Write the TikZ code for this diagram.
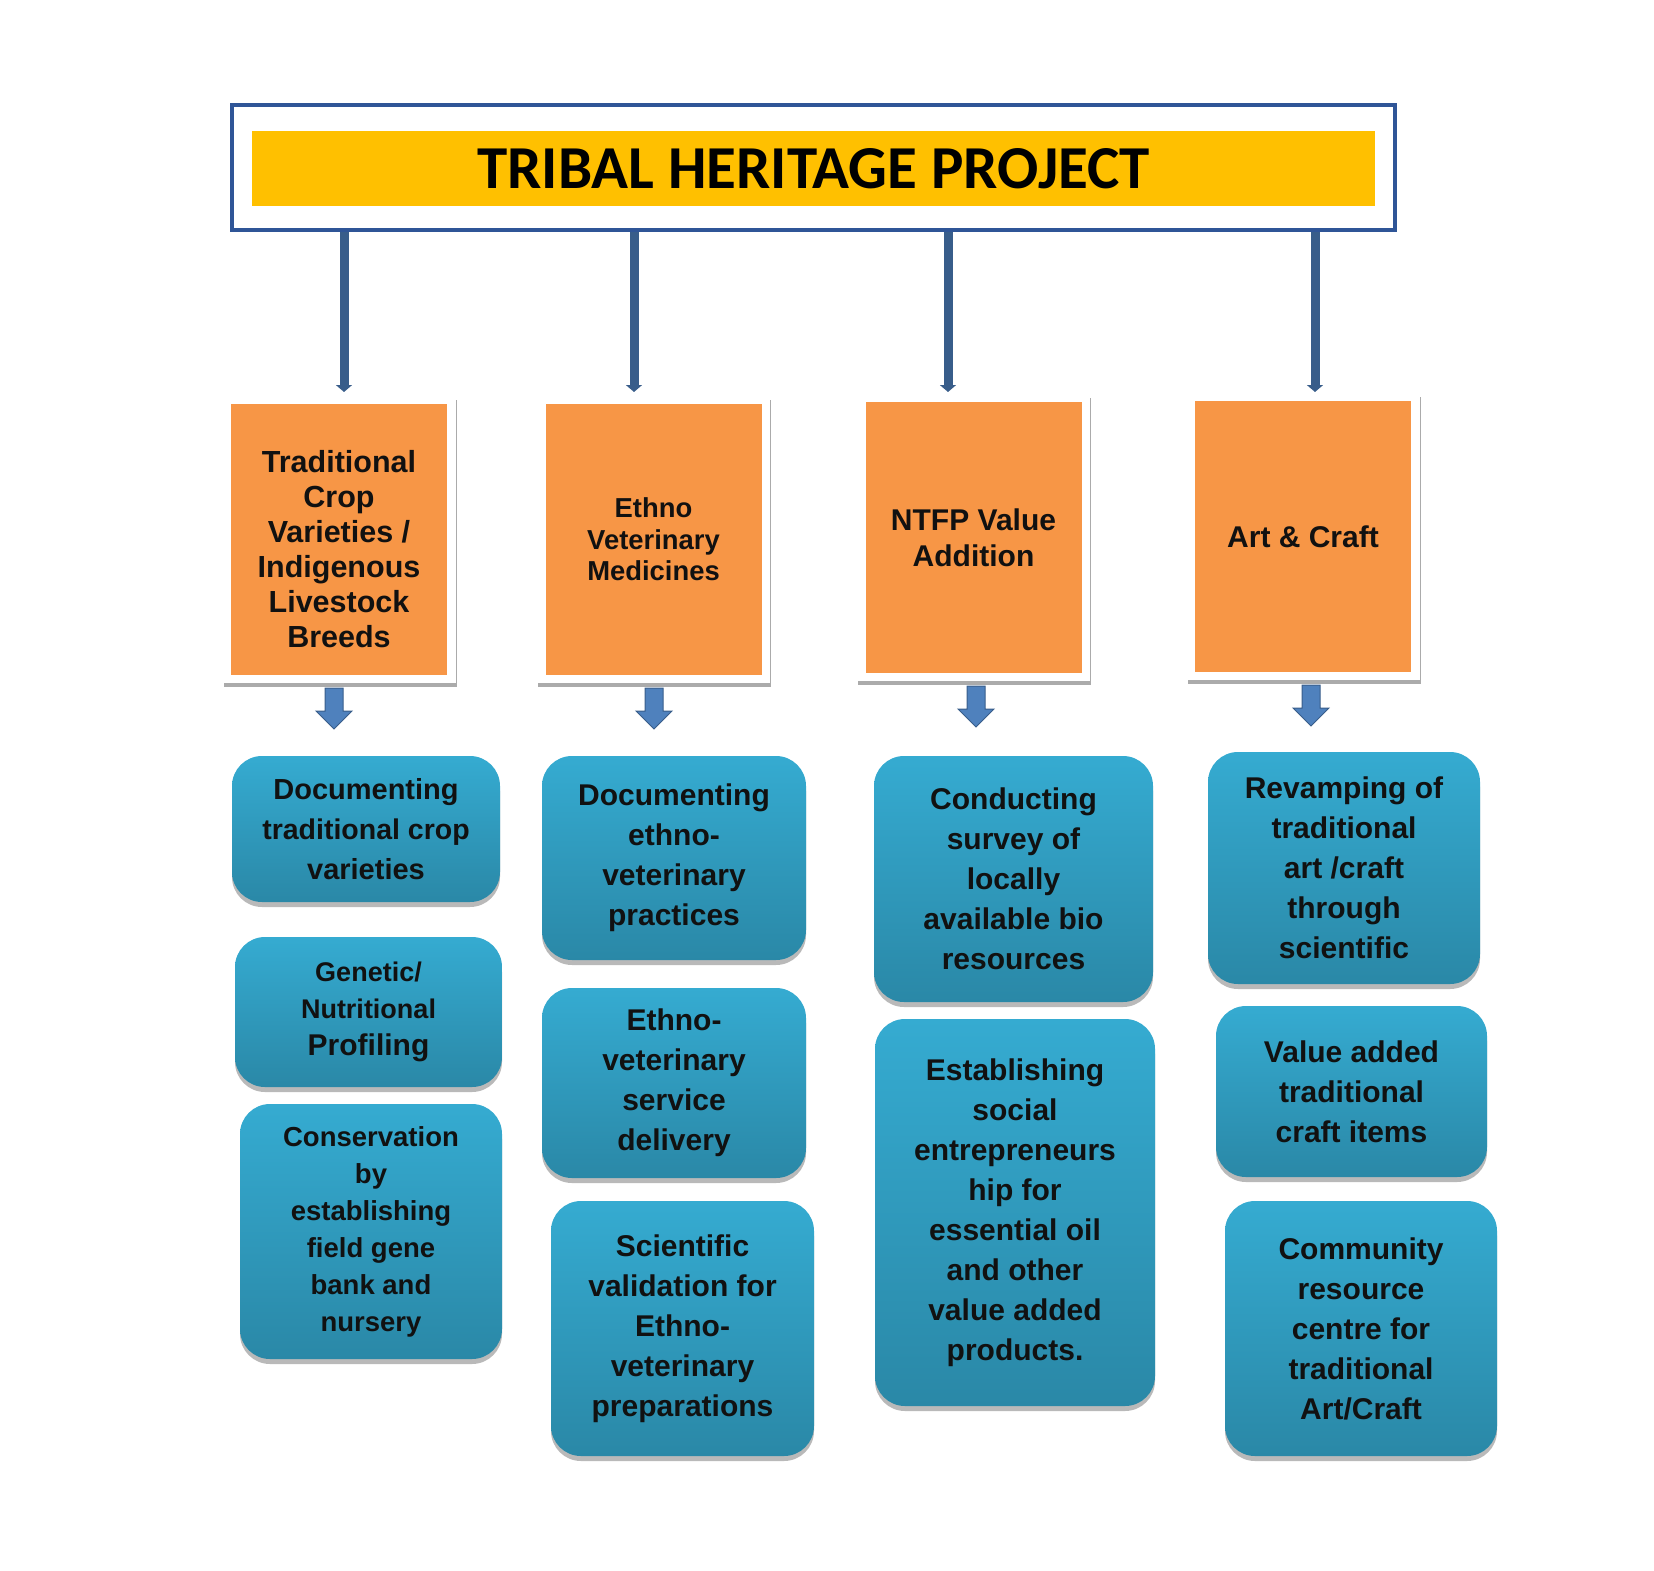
\documentclass[tikz,border=0pt]{standalone}
\usepackage{fontspec}
\setmainfont{Liberation Sans}
\newfontfamily\titlefont{Carlito}
\usetikzlibrary{arrows.meta,positioning,shadows,shapes.arrows}
\definecolor{frameblue}{HTML}{2F5597}
\definecolor{linkblue}{HTML}{385D8A}
\definecolor{gold}{HTML}{FFC000}
\definecolor{themeorange}{HTML}{F79646}
\definecolor{blockblue}{HTML}{4F81BD}
\definecolor{tasktop}{HTML}{35ABD1}
\definecolor{taskbot}{HTML}{2A88A7}
\definecolor{ink}{HTML}{111111}
\tikzset{
  frame/.style={draw=frameblue, line width=4.5pt, fill=white, inner sep=0pt,
                minimum width=1163pt, minimum height=125pt},
  banner/.style={fill=gold, inner sep=0pt, minimum width=1123pt, minimum height=75pt,
                 text=black, font=\titlefont\bfseries\fontsize{61}{61}\selectfont},
  card/.style={fill=white, inner sep=0pt, minimum width=233pt, minimum height=287pt,
               drop shadow={shadow xshift=1pt, shadow yshift=-4pt, fill=black!55, opacity=.6}},
  theme/.style={fill=themeorange, inner sep=0pt, align=center, text=ink,
                minimum width=216pt, minimum height=271pt,
                font=\bfseries\fontsize{30}{35}\selectfont},
  themetext/.style={align=center, text=ink, inner sep=0pt,
                    font=\bfseries\fontsize{30.5}{35}\selectfont},
  task/.style={rounded corners=30pt, top color=tasktop, bottom color=taskbot,
               align=center, text=ink, inner sep=0pt,
               font=\bfseries\fontsize{30}{40}\selectfont,
               drop shadow={shadow xshift=0pt, shadow yshift=-5pt, fill=black!50, opacity=.55}},
  link/.style={line width=9pt, draw=linkblue, -{Triangle[width=16pt,length=7pt]}},
  fatarrow/.style={single arrow, fill=blockblue, draw=linkblue, line width=1pt,
                   minimum width=36pt, minimum height=41pt, single arrow head extend=9pt,
                   inner xsep=0pt, inner ysep=8.5pt, rotate=-90}
}
\begin{document}
\begin{tikzpicture}[x=1pt,y=-1pt]
  \useasboundingbox (0,0) rectangle (1654,1571);

  % title
  \node[frame] (frame) at (813.5,167.5) {};
  \node[banner] (title) at (813.5,168.5) {TRIBAL HERITAGE PROJECT};

  % links to the four themes
  \coordinate (t1) at (344,392);
  \coordinate (t2) at (634,392);
  \coordinate (t3) at (948,392);
  \coordinate (t4) at (1315,392);
  \foreach \t in {t1,t2,t3,t4}
    \draw[link] (frame.south -| \t) -- (\t);

  % themes
  \node[card] (card1) at (339,539.5) {};
  \node[theme, label={[themetext, yshift=-10pt]center:Traditional\\Crop\\Varieties /\\Indigenous\\Livestock\\Breeds}] (crop) at (339,539.5) {};
  \node[card] (card2) at (653.5,539.5) {};
  \node[theme, font=\bfseries\fontsize{27.4}{31.6}\selectfont] (evm) at (653.5,539.5) {Ethno\\Veterinary\\Medicines};
  \node[card] (card3) at (973.5,537.5) {};
  \node[theme, font=\bfseries\fontsize{30}{36}\selectfont] (ntfp) at (973.5,537.5) {NTFP Value\\Addition};
  \node[card] (card4) at (1303,536.5) {};
  \node[theme] (art) at (1303,536.5) {Art \& Craft};

  % block arrows
  \node[fatarrow] (d1) at (334,704) {};
  \node[fatarrow] (d2) at (654,704) {};
  \node[fatarrow] (d3) at (976,702) {};
  \node[fatarrow] (d4) at (1311,701) {};

  % activities
  \node[task, minimum width=268pt, minimum height=146pt, font=\bfseries\fontsize{29}{40}\selectfont] (c1a) at (366,829)
    {Documenting\\\fontsize{28.5}{40}\selectfont traditional crop\\varieties};
  \node[task, minimum width=267pt, minimum height=150pt, font=\bfseries\fontsize{27}{37}\selectfont] (c1b) at (368.5,1012)
    {Genetic/\\Nutritional\\\fontsize{30}{37}\selectfont Profiling};
  \node[task, minimum width=262pt, minimum height=255pt, font=\bfseries\fontsize{27.5}{37}\selectfont] (c1c) at (371,1231.5)
    {Conservation\\by\\establishing\\field gene\\bank and\\nursery};

  \node[task, minimum width=264pt, minimum height=204pt] (c2a) at (674,858)
    {Documenting\\ethno-\\veterinary\\practices};
  \node[task, minimum width=264pt, minimum height=190pt] (c2b) at (674,1083)
    {Ethno-\\veterinary\\service\\delivery};
  \node[task, minimum width=263pt, minimum height=255pt] (c2c) at (682.5,1328.5)
    {Scientific\\validation for\\Ethno-\\veterinary\\preparations};

  \node[task, minimum width=279pt, minimum height=246pt] (c3a) at (1013.5,879)
    {Conducting\\survey of\\locally\\available bio\\resources};
  \node[task, minimum width=280pt, minimum height=387pt] (c3b) at (1015,1212.5)
    {Establishing\\social\\entrepreneurs\\hip for\\essential oil\\and other\\value added\\products.};

  \node[task, minimum width=272pt, minimum height=232pt] (c4a) at (1344,868)
    {Revamping of\\traditional\\art /craft\\through\\scientific};
  \node[task, minimum width=271pt, minimum height=171pt] (c4b) at (1351.5,1091.5)
    {Value added\\traditional\\craft items};
  \node[task, minimum width=272pt, minimum height=255pt] (c4c) at (1361,1328.5)
    {Community\\resource\\centre for\\traditional\\Art/Craft};
\end{tikzpicture}
\end{document}
